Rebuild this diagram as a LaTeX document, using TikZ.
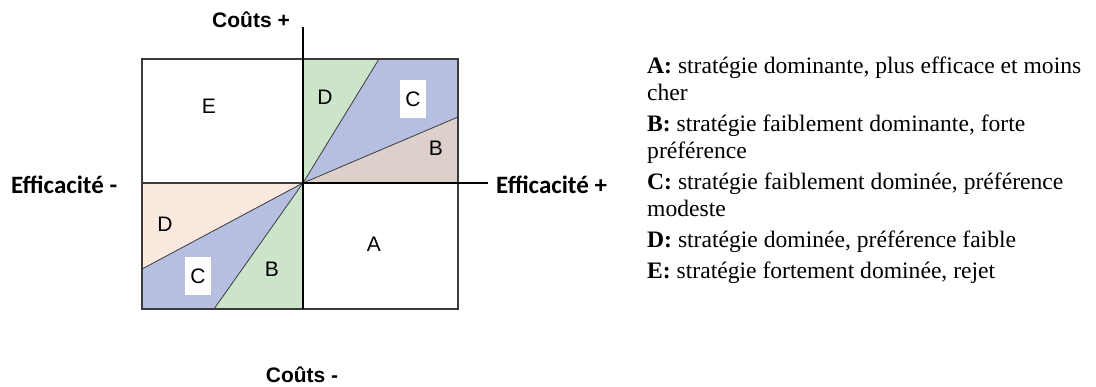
\documentclass[tikz,border=0pt]{standalone}
\usepackage{fontspec}
\setmainfont{Liberation Serif}
\newfontfamily\arialf{Liberation Sans}
\newfontfamily\calibf{Carlito}
\definecolor{gD}{HTML}{CCE4C9}
\definecolor{bC}{HTML}{B6BFE2}
\definecolor{brB}{HTML}{DDD0CB}
\definecolor{pD}{HTML}{FBE9E0}
\definecolor{edge}{HTML}{3A3A3A}
\tikzset{
  qlab/.style={font=\arialf\fontsize{21}{23}\selectfont, inner sep=0pt},
  wbox/.style={qlab, fill=white, minimum width=26pt, minimum height=38pt},
  axlab/.style={font=\arialf\bfseries\fontsize{21}{23}\selectfont, inner sep=0pt, anchor=base},
  efflab/.style={font=\calibf\bfseries\fontsize{25}{27}\selectfont, inner sep=0pt, anchor=base west},
  leg/.style={font=\fontsize{23.6}{27}\selectfont, inner sep=0pt, anchor=base west},
  wedge/.style={draw=edge, line width=0.8pt},
  thick axis/.style={draw=black, line width=2.6pt},
}
\begin{document}
\begin{tikzpicture}[x=1pt,y=-1pt]
\useasboundingbox (0,0) rectangle (1096,386);
\coordinate (O) at (303,183);
\coordinate (TL) at (142,59);
\coordinate (BR) at (458,309);
\coordinate (t1) at (379,59);
\coordinate (r1) at (458,117);
\coordinate (l1) at (142,269);
\coordinate (b1) at (214,309);
\coordinate (ytop) at (303,27);
\coordinate (xend) at (488,183);
% fills
\fill[gD] (O) -- (303,59) -- (t1) -- cycle;
\fill[bC] (O) -- (t1) -- (458,59) -- (r1) -- cycle;
\fill[brB] (O) -- (r1) -- (458,183) -- cycle;
\fill[pD] (O) -- (142,183) -- (l1) -- cycle;
\fill[bC] (O) -- (l1) -- (142,309) -- (b1) -- cycle;
\fill[gD] (O) -- (b1) -- (303,309) -- cycle;
% wedge lines
\draw[wedge] (O) -- (t1);
\draw[wedge] (O) -- (r1);
\draw[wedge] (O) -- (l1);
\draw[wedge] (O) -- (b1);
% frame
\draw[edge, line width=1.4pt] (TL) rectangle (BR);
\draw[edge, line width=1.4pt] (142,183) -- (O);
\draw[black, line width=1.3pt] (ytop) -- (O);
\draw[thick axis] (O) -- (303,309);
\draw[thick axis] (O) -- (xend);
% quadrant labels
\node[qlab] (E) at (209,106) {E};
\node[qlab] (Dt) at (325,97) {D};
\node[wbox] (Ct) at (413,99) {C};
\node[qlab] (Bt) at (436,148) {B};
\node[qlab] (Db) at (165,224) {D};
\node[wbox] (Cb) at (198,276) {C};
\node[qlab] (Bb) at (272,269) {B};
\node[qlab] (A) at (374,244) {A};
% axis labels
\node[axlab] (cplus) at (251,27) {Coûts +};
\node[axlab] (cminus) at (302,382) {Coûts -};
\node[efflab] (emin) at (11,193) {Efficacité -};
\node[efflab] (eplus) at (496,193) {Efficacité +};
% legend
\node[leg] (l1t) at (647,73) {\textbf{A:} stratégie dominante, plus efficace et moins};
\node[leg] (l2t) at (647,100) {cher};
\node[leg] (l3t) at (647,131) {\textbf{B:} stratégie faiblement dominante, forte};
\node[leg] (l4t) at (647,158) {préférence};
\node[leg] (l5t) at (647,189) {\textbf{C:} stratégie faiblement dominée, préférence};
\node[leg] (l6t) at (647,216) {modeste};
\node[leg] (l7t) at (647,247) {\textbf{D:} stratégie dominée, préférence faible};
\node[leg] (l8t) at (647,278) {\textbf{E:} stratégie fortement dominée, rejet};
\end{tikzpicture}
\end{document}
